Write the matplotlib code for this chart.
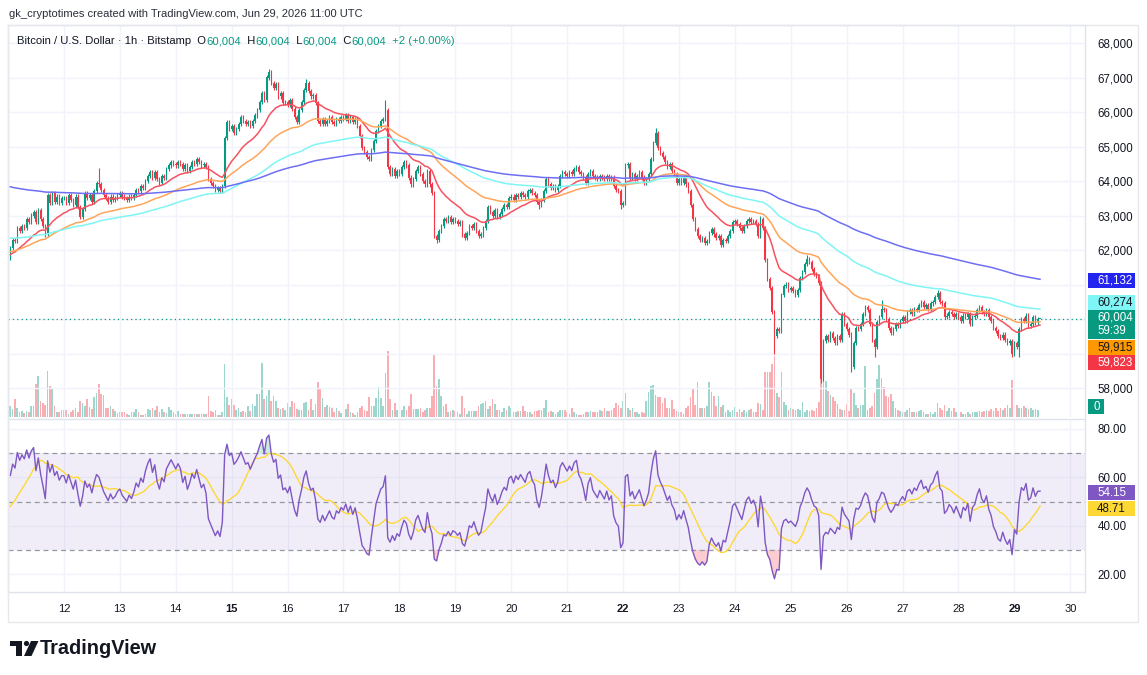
#!/usr/bin/env python3
"""BTC/USD 1h (Bitstamp) in the TradingView look: candles, volume, 4 EMAs, RSI pane."""
import numpy as np
import matplotlib
matplotlib.use("Agg")
import matplotlib.pyplot as plt
from matplotlib.patches import Rectangle, Circle, Polygon

W, H = 1147, 675
plt.rcParams["font.family"] = ["Liberation Sans", "DejaVu Sans"]

# hourly closes (UTC), first bar Jun 11 01:00, last bar Jun 29 11:00
closes = [
    # Jun 11 (01-23)
    62050, 62300, 62250, 62650, 62550, 62700, 62650, 62900, 62800, 63000, 63100, 62800,
    63150, 62900, 62700, 62450, 63600, 63350, 63650, 63400, 63550, 63350, 63500,
    # Jun 12
    63500, 63350, 63600, 63450, 63300, 63550, 63250, 62950, 63200, 63650, 63500, 63600,
    63400, 63700, 63950, 63900, 63750, 63600, 63500, 63400, 63550, 63450, 63500, 63600,
    # Jun 13
    63650, 63550, 63500, 63450, 63550, 63500, 63600, 63750, 63700, 63850, 63800, 64000,
    64150, 64250, 64100, 64250, 64050, 63950, 64150, 64100, 64350, 64450, 64550, 64500,
    # Jun 14
    64450, 64550, 64500, 64350, 64450, 64300, 64400, 64550, 64500, 64650, 64550, 64450,
    64500, 64400, 64050, 63950, 63850, 63750, 63800, 63700, 63850, 65250, 65700, 65500,
    # Jun 15
    65600, 65400, 65500, 65650, 65850, 65750, 65650, 65700, 65600, 65750, 65900, 66050,
    66300, 66550, 66350, 67000, 67150, 66850, 66700, 66800, 66450, 66550, 66250, 66300,
    # Jun 16
    66200, 66350, 66100, 65850, 65700, 66050, 66300, 66650, 66850, 66600, 66450, 66500,
    66250, 65750, 65650, 65800, 65650, 65750, 65850, 65700, 65650, 65800, 65750, 65850,
    # Jun 17
    65800, 65900, 65750, 65850, 65700, 65800, 65600, 65300, 64950, 64850, 64700, 64650,
    64900, 65150, 65450, 65600, 65750, 65800, 66050, 64400, 64200, 64350, 64150, 64300,
    # Jun 18
    64200, 64400, 64550, 64450, 64100, 63900, 64050, 64300, 64400, 64200, 64000, 63900,
    64300, 63900, 63650, 62400, 62300, 62550, 62700, 62900, 62850, 62950, 62800, 62900,
    # Jun 19
    62850, 62750, 62800, 62450, 62350, 62500, 62700, 62650, 62750, 62550, 62400, 62450,
    62650, 62850, 63250, 63100, 63000, 63150, 62950, 63050, 63200, 63300, 63250, 63500,
    # Jun 20
    63550, 63450, 63600, 63550, 63650, 63600, 63550, 63700, 63750, 63650, 63600, 63400,
    63300, 63450, 63700, 64050, 63900, 63800, 63850, 63750, 63850, 64150, 64250, 64200,
    # Jun 21
    64150, 64250, 64200, 64350, 64400, 64250, 64200, 64100, 63950, 64200, 64300, 64150,
    64100, 64050, 64150, 64100, 64050, 64150, 64050, 64100, 63850, 63750, 63700, 63300,
    # Jun 22
    63350, 64450, 64500, 64100, 64200, 64050, 64150, 64250, 64100, 63950, 64050, 64200,
    64650, 65100, 65400, 64950, 64800, 64700, 64550, 64400, 64500, 64300, 64200, 63950,
    # Jun 23
    64050, 63950, 64100, 63900, 63700, 63300, 62900, 62600, 62400, 62300, 62350, 62200,
    62250, 62500, 62600, 62450, 62350, 62400, 62150, 62300, 62250, 62400, 62550, 62800,
    # Jun 24
    62850, 62750, 62650, 62550, 62700, 62850, 62900, 62800, 62850, 62750, 62400, 62900,
    62650, 61700, 61150, 60900, 60200, 59500, 59700, 59650, 60700, 60950, 61000, 60850,
    # Jun 25
    60900, 60800, 60700, 60850, 61200, 61350, 61600, 61750, 61650, 61450, 61300, 61250,
    61050, 58250, 59350, 59500, 59400, 59600, 59450, 59300, 59500, 59400, 60150, 59850,
    # Jun 26
    59700, 59550, 58600, 59300, 59750, 59700, 59850, 60150, 60350, 60250, 59850, 59400,
    59200, 59900, 60050, 60300, 60250, 60000, 59750, 59600, 59700, 59850, 59800, 59950,
    # Jun 27
    60050, 59950, 60200, 60250, 60150, 60300, 60250, 60400, 60500, 60350, 60400, 60300,
    60450, 60500, 60650, 60750, 60500, 60450, 60050, 60100, 60200, 60150, 60050, 60150,
    # Jun 28
    60050, 59950, 60100, 60050, 60150, 59850, 60050, 60100, 60250, 60350, 60200, 60150,
    60250, 60050, 59950, 59750, 59650, 59500, 59450, 59550, 59400, 59300, 59350, 59000,
    # Jun 29 (00-11)
    59300, 59200, 59700, 60000, 59950, 60100, 59800, 59850, 60050, 59900, 60002, 60004,
]
first_open = 61750
last_open = 60004
wick = 60          # usual wick length, USD
# (day, hour) -> extreme wick
wick_highs = {(12, 15): 64380, (15, 16): 67250, (16, 8): 66950, (17, 18): 66350,
              (22, 14): 65550, (24, 11): 63000, (25, 7): 61850, (26, 15): 60550,
              (27, 15): 60850}
wick_lows = {(11, 1): 61700, (14, 19): 63650, (18, 16): 62200, (20, 12): 63200,
             (21, 23): 63200, (24, 17): 59000, (25, 13): 58150, (26, 2): 58450,
             (26, 12): 58900, (28, 23): 58900, (29, 2): 58900}

volumes = [
    # Jun 11 (01-23)
    31, 23, 51, 25, 15, 18, 11, 18, 13, 33, 31, 95, 118, 46, 41, 35, 131, 88, 81, 31, 15, 13, 20,
    21, 21, 8, 15, 20, 25, 15, 45, 40, 31, 53, 28, 23, 57, 68, 95, 66, 63, 25, 25, 31, 23, 17, 11,
    13, 15, 13, 10, 7, 15, 13, 23, 13, 7, 7, 9, 23, 21, 27, 21, 31, 13, 23, 15, 11, 29, 21, 13,
    10, 17, 10, 9, 8, 9, 8, 10, 8, 9, 8, 8, 9, 8, 60, 18, 15, 21, 7, 7, 15, 153, 57, 35,
    51, 35, 21, 27, 13, 17, 15, 31, 17, 37, 31, 65, 65, 156, 53, 60, 78, 47, 61, 45, 27, 23, 27, 20,
    39, 29, 45, 39, 23, 21, 21, 41, 43, 20, 51, 20, 38, 101, 83, 55, 28, 35, 28, 27, 15, 25, 16, 11,
    11, 23, 37, 13, 11, 7, 13, 27, 33, 21, 17, 57, 31, 33, 55, 85, 55, 33, 125, 190, 53, 21, 39, 21,
    17, 21, 31, 21, 31, 65, 23, 23, 23, 25, 13, 19, 25, 25, 60, 178, 88, 108, 60, 31, 38, 13, 17, 19,
    17, 13, 10, 60, 27, 9, 17, 17, 17, 17, 31, 37, 41, 45, 23, 31, 51, 37, 21, 21, 13, 27, 21, 33,
    27, 13, 13, 17, 17, 31, 17, 13, 13, 9, 17, 17, 21, 21, 25, 50, 13, 18, 13, 8, 13, 21, 21, 21,
    15, 10, 25, 15, 10, 7, 5, 10, 15, 13, 17, 13, 15, 13, 19, 17, 25, 17, 17, 21, 25, 41, 35, 27,
    45, 70, 27, 21, 27, 13, 15, 10, 13, 12, 46, 73, 88, 91, 63, 57, 57, 40, 55, 25, 25, 49, 23, 17,
    15, 13, 10, 25, 31, 57, 81, 35, 101, 25, 25, 27, 31, 100, 73, 60, 33, 61, 30, 35, 13, 20, 15, 20,
    28, 15, 23, 15, 20, 15, 20, 24, 15, 15, 41, 37, 20, 129, 129, 129, 153, 175, 70, 57, 129, 43, 35, 20,
    27, 23, 19, 23, 19, 43, 13, 20, 17, 19, 17, 25, 43, 155, 103, 103, 75, 63, 57, 45, 37, 23, 20, 20,
    37, 17, 81, 68, 35, 25, 35, 35, 145, 20, 25, 31, 70, 110, 150, 113, 85, 60, 57, 67, 45, 27, 20, 17,
    13, 15, 20, 27, 13, 15, 13, 17, 20, 13, 10, 10, 13, 10, 13, 40, 25, 20, 35, 17, 25, 17, 25, 13,
    10, 13, 10, 10, 13, 10, 13, 15, 13, 17, 15, 17, 20, 17, 23, 17, 25, 17, 25, 20, 25, 35, 27, 105,
    # Jun 29 (00-11)
    45, 35, 25, 27, 31, 27, 23, 25, 20, 23, 20, 0,
]

# EMA values just before the first bar (from the left edge of the chart)
ema_specs = [(20, 61850, "#f7525f"), (50, 61950, "#ffa55a"),
             (100, 62350, "#7ff5f5"), (200, 63850, "#6e6ef5")]
rsi_seed_gain, rsi_seed_loss = 70.0, 60.0
rsi_ma_seed = 47.0

day_labels = [str(d) for d in range(12, 31)]
bold_days = ["15", "22", "29"]
price_ticks = list(range(58000, 68001, 1000))
hidden_price_ticks = [59000, 60000, 61000]
rsi_ticks = [20, 40, 60, 80]

# right-scale tags as TradingView stacks them: (text lines, background, text colour)
price_tags = [(["61,132"], "#2424f0", "white"), (["60,274"], "#7ff5f5", "#131722"),
              (["60,004", "59:39"], "#089981", "white"), (["59,915"], "#ff9800", "#131722"),
              (["59,823"], "#f23645", "white")]
rsi_tags = [(["54.15"], "#7e57c2", "white"), (["48.71"], "#fdd835", "#131722")]
vol_tag = ([str(volumes[-1])], "#089981", "white")

UP, DOWN = "#089981", "#f23645"
GRID = "#f0f3fa"
TXT = "#131722"


def ema(x, n, seed):
    a = 2.0 / (n + 1)
    out = np.empty_like(x)
    prev = seed
    for i, v in enumerate(x):
        prev += a * (v - prev)
        out[i] = prev
    return out


def rsi(x, prev_close, g, l, n=14):
    d = np.diff(np.r_[prev_close, x])
    out = np.empty_like(x)
    for i, v in enumerate(d):
        g = (g * (n - 1) + max(v, 0)) / n
        l = (l * (n - 1) + max(-v, 0)) / n
        out[i] = 100 - 100 / (1 + g / l)
    return out


def px_box(l, t, r, b):
    return [l / W, 1 - b / H, (r - l) / W, (b - t) / H]


c = np.array(closes, float)
t = np.arange(1, len(c) + 1)               # hours since Jun 11 00:00 UTC
o = np.r_[first_open, c[:-1]]
o[-1] = last_open
hi = np.maximum(o, c) + wick
lo = np.minimum(o, c) - wick
hi[-1] = lo[-1] = c[-1]
for (d, h), v in wick_highs.items():
    hi[24 * (d - 11) + h - 1] = v
for (d, h), v in wick_lows.items():
    lo[24 * (d - 11) + h - 1] = v
up = c >= o
cols = np.where(up, UP, DOWN)

fig = plt.figure(figsize=(W / 100, H / 100), dpi=100)
fig.patch.set_facecolor("white")

P_TOP, P_BOT, R_TOP, R_BOT, X_L, X_R = 25, 417, 419, 592, 8, 1085
ax_v = fig.add_axes(px_box(X_L, P_TOP, X_R, P_BOT))
ax = fig.add_axes(px_box(X_L, P_TOP, X_R, P_BOT), sharex=ax_v)
ax_r = fig.add_axes(px_box(X_L, R_TOP, X_R, R_BOT), sharex=ax_v)
ax.patch.set_visible(False)

p_lim = (68000 - (P_BOT - 43) * 1000 / 34.5, 68000 + (43 - P_TOP) * 1000 / 34.5)
r_lim = (20 - (R_BOT - 574) / 2.4167, 80 + (429 - R_TOP) / 2.4167)

# volume (own scale, behind the candles)
ax_v.bar(t, volumes, width=0.72, color=cols, alpha=0.4, lw=0)
ax_v.set_ylim(0, 1125)
ax_v.set_yticks([])
ax_v.tick_params(labelbottom=False, length=0)
for s in ax_v.spines.values():
    s.set_visible(False)

# candles
ax.vlines(t, lo, hi, colors=cols, lw=0.8, zorder=3)
ax.bar(t, np.maximum(np.abs(c - o), 15), bottom=np.minimum(o, c), width=0.62,
       color=cols, lw=0, zorder=3)
for n, seed, col in ema_specs:
    ax.plot(t, ema(c, n, seed), color=col, lw=1.1, zorder=4)
ax.axhline(c[-1], color=UP, lw=0.9, ls=(0, (1, 2.5)), zorder=2)

ax.set_ylim(*p_lim)
ax.set_xlim(0, 462.3)
ax.yaxis.tick_right()
ax.set_yticks(price_ticks)
ax.set_yticklabels(["" if v in hidden_price_ticks else f"{v:,}" for v in price_ticks])
ax.tick_params(axis="y", length=0, pad=9, labelsize=8.3, labelcolor=TXT)
ax.tick_params(axis="x", length=0, labelbottom=False)
ax.set_xticks(24 * np.arange(1, 20))
ax.grid(True, color=GRID, lw=1, zorder=0)
ax.set_axisbelow(True)

# RSI pane
rv = rsi(c, first_open, rsi_seed_gain, rsi_seed_loss)
rma = np.convolve(np.r_[[rsi_ma_seed] * 13, rv], np.ones(14) / 14, mode="valid")
ax_r.axhspan(30, 70, color="#7e57c2", alpha=0.1, lw=0)
for lvl in (70, 50, 30):
    ax_r.axhline(lvl, color="#9598a1", lw=0.9, ls=(0, (4, 3)))
ax_r.fill_between(t, rv, 30, where=rv < 30, interpolate=True, color=DOWN, alpha=0.25, lw=0)
ax_r.fill_between(t, rv, 70, where=rv > 70, interpolate=True, color=UP, alpha=0.2, lw=0)
ax_r.plot(t, rma, color="#fdd835", lw=1.0)
ax_r.plot(t, rv, color="#7e57c2", lw=1.0)
ax_r.set_ylim(*r_lim)
ax_r.yaxis.tick_right()
ax_r.set_yticks(rsi_ticks)
ax_r.set_yticklabels([f"{v:.2f}" for v in rsi_ticks])
ax_r.tick_params(axis="y", length=0, pad=9, labelsize=8.3, labelcolor=TXT)
ax_r.set_xticks(24 * np.arange(1, 20))
ax_r.set_xticklabels(day_labels)
ax_r.tick_params(axis="x", length=0, pad=9, labelsize=8, labelcolor=TXT)
for lab in ax_r.get_xticklabels():
    if lab.get_text() in bold_days:
        lab.set_fontweight("bold")
ax_r.grid(True, color=GRID, lw=1)
ax_r.set_axisbelow(True)

for a in (ax, ax_r):
    for s in a.spines.values():
        s.set_color("#e0e3eb")
        s.set_linewidth(1)
ax.spines["bottom"].set_visible(False)

# overlay in pixel coordinates: header, scale tags, frame, logo
ov = fig.add_axes([0, 0, 1, 1])
ov.set_xlim(0, W)
ov.set_ylim(H, 0)
ov.axis("off")
ov.patch.set_alpha(0)


def tag(top, lines, bg, fg, w=47, tx=1097):
    h = 14 * len(lines) + 1
    ov.add_patch(Rectangle((1088, top), w, h, fc=bg, ec="none", zorder=10))
    for k, s in enumerate(lines):
        ov.text(tx, top + 7.5 + 14 * k, s, ha="left", va="center", fontsize=8.3,
                color=fg, zorder=11)


# stacked tag tops, in pixels
for top, (lines, bg, fg) in zip([273, 295, 310, 340, 355], price_tags):
    tag(top, lines, bg, fg)
for top, (lines, bg, fg) in zip([485, 501], rsi_tags):
    tag(top, lines, bg, fg)
tag(399, *vol_tag, w=16, tx=1093)

ov.add_patch(Rectangle((X_L, P_TOP), 1138 - X_L, 622 - P_TOP, fill=False,
                       ec="#e6e8ee", lw=1))
ov.text(9, 14, "gk_cryptotimes created with TradingView.com, Jun 29, 2026 11:00 UTC",
        fontsize=8, color="#2a2e39", va="center", ha="left")

# legend line: pieces on one baseline, each starting where the last one ended
parts = [("Bitcoin / U.S. Dollar · 1h · Bitstamp", TXT), ("  O", TXT), ("60,004", UP),
         ("  H", TXT), ("60,004", UP), ("  L", TXT), ("60,004", UP), ("  C", TXT),
         ("60,004", UP), ("  +2 (+0.00%)", UP)]
renderer = fig.canvas.get_renderer()
x = 17
for s, col in parts:
    txt = ov.text(x, 44, s, fontsize=8.1, color=col, va="baseline", ha="left")
    x += txt.get_window_extent(renderer).width * W / fig.bbox.width

# TradingView logo
ov.add_patch(Rectangle((10, 641), 12, 5, fc="#131722", ec="none"))
ov.add_patch(Rectangle((16, 641), 6, 15, fc="#131722", ec="none"))
ov.add_patch(Circle((26.5, 643.5), 2.6, fc="#131722", ec="none"))
ov.add_patch(Polygon([(31, 641), (38.5, 641), (31.5, 656), (24, 656)], fc="#131722", ec="none"))
ov.text(40, 648, "TradingView", fontsize=14.3, fontweight="bold", color="#131722",
        va="center", ha="left")

fig.savefig("out.png", dpi=100)
plt.close(fig)
